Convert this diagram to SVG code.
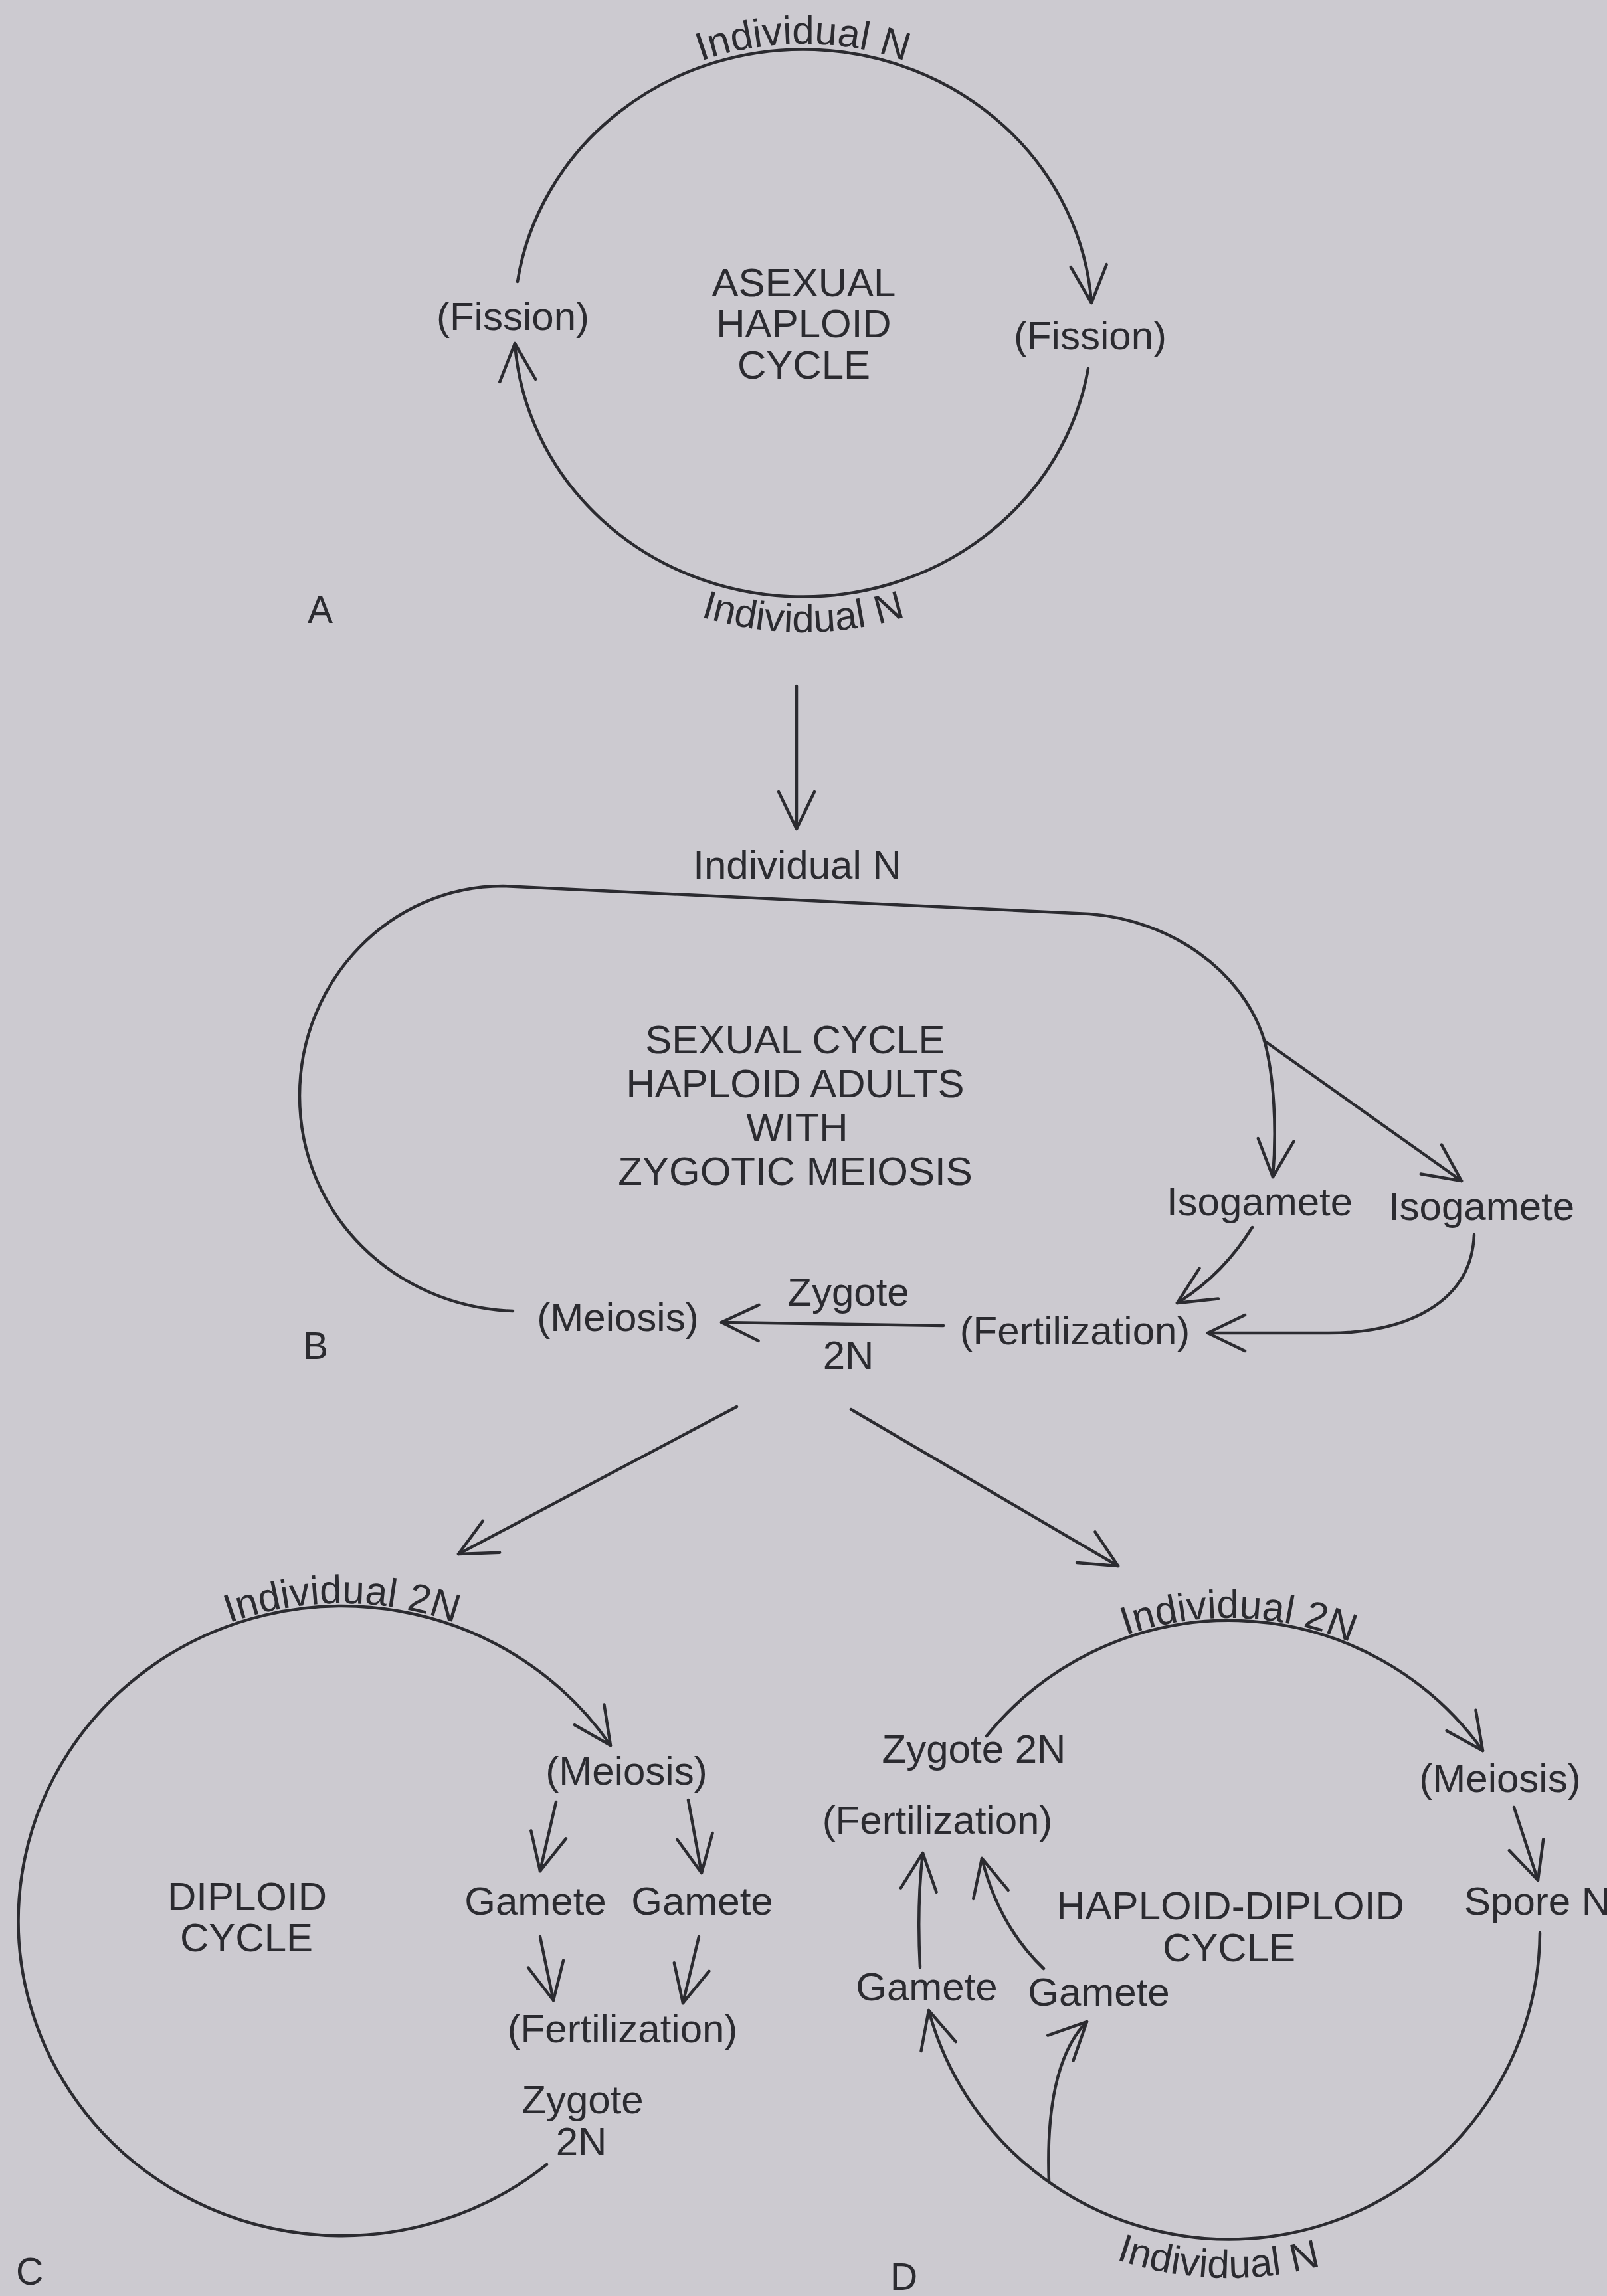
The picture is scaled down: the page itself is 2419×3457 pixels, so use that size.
<svg xmlns="http://www.w3.org/2000/svg" width="2419" height="3457" viewBox="0 0 2419 3457">
<style>
.t{font-family:"Liberation Sans",Arial,Helvetica,sans-serif;font-size:60px;fill:#2b2b30;text-anchor:middle}
.l{text-anchor:start;font-size:57px}
.c{fill:none;stroke:#2b2b30;stroke-width:4.5;stroke-linecap:round}
.a{marker-end:url(#ah)}
</style>
<defs>
<marker id="ah" markerUnits="userSpaceOnUse" markerWidth="90" markerHeight="90" viewBox="-70 -45 90 90" refX="0" refY="0" orient="auto" overflow="visible">
<path d="M -56 -27 L 0 0 L -56 27" fill="none" stroke="#2b2b30" stroke-width="4.5" stroke-linecap="round" stroke-linejoin="round"/>
</marker>
<path id="pAtop" d="M 766 485 A 443 419 0 0 1 1652 485"/>
<path id="pAbot" d="M 718 485 A 491 467 0 0 0 1700 485"/>
<path id="pCtop" d="M 24 2892 A 491 478 0 0 1 1006 2892"/>
<path id="pDtop" d="M 1378 2905 A 472 469 0 0 1 2322 2905"/>
<path id="pDbot" d="M 1322 2905 A 528 525 0 0 0 2378 2905"/>
</defs>
<rect width="2419" height="3457" fill="#cccad0"/>

<g id="connectors">
<!-- A -->
<path class="c a" d="M 779 424 A 435 411 0 0 1 1643 456"/>
<path class="c a" d="M 1638 555 A 435 411 0 0 1 775 517"/>
<path class="c a" d="M 1199 1033 L 1199 1248"/>
<!-- B -->
<path class="c a" d="M 772 1974 C 595 1968 451 1829 451 1650 C 451 1476 588 1334 757 1334 L 1640 1376 C 1760 1385 1870 1460 1903 1566 C 1918 1620 1922 1700 1916 1772"/>
<path class="c a" d="M 1903 1567 L 2200 1778"/>
<path class="c a" d="M 1885 1848 Q 1840 1920 1772 1962"/>
<path class="c a" d="M 2219 1859 C 2215 1960 2120 2007 2000 2007 L 1818 2007"/>
<path class="c a" d="M 1420 1996 L 1086 1991"/>
<path class="c a" d="M 1109 2118 L 690 2340"/>
<path class="c a" d="M 1281 2122 L 1683 2358"/>
<!-- C -->
<path class="c a" d="M 823 3259 A 487 474 0 1 1 919 2628"/>
<path class="c a" d="M 837 2713 L 813 2817"/>
<path class="c a" d="M 1036 2710 L 1056 2820"/>
<path class="c a" d="M 813 2916 L 833 3012"/>
<path class="c a" d="M 1052 2916 L 1028 3016"/>
<!-- D -->
<path class="c a" d="M 1485 2614 A 468 465 0 0 1 2232 2636"/>
<path class="c a" d="M 2318 2910 A 468 465 0 0 1 1398 3027"/>
<path class="c a" d="M 1579 3285 C 1575 3180 1590 3090 1636 3044"/>
<path class="c a" d="M 1385 2962 Q 1380 2870 1389 2790"/>
<path class="c a" d="M 1571 2964 Q 1503 2899 1478 2798"/>
<path class="c a" d="M 2279 2721 L 2315 2831"/>
</g>

<g id="panel-A">
<g id="a-top"><text class="t"><textPath href="#pAtop" startOffset="50%">Individual N</textPath></text></g>
<g id="a-bottom"><text class="t"><textPath href="#pAbot" startOffset="50%">Individual N</textPath></text></g>
<g id="a-title"><text class="t" x="1210" y="446">ASEXUAL</text><text class="t" x="1210" y="508">HAPLOID</text><text class="t" x="1210" y="570">CYCLE</text></g>
<g id="a-fission-left"><text class="t" x="772" y="497">(Fission)</text></g>
<g id="a-fission-right"><text class="t" x="1641" y="526">(Fission)</text></g>
<g id="a-label"><text class="t l" x="463" y="938">A</text></g>
</g>

<g id="panel-B">
<g id="b-individual"><text class="t" x="1200" y="1323">Individual N</text></g>
<g id="b-title"><text class="t" x="1197" y="1586">SEXUAL CYCLE</text><text class="t" x="1197" y="1652">HAPLOID ADULTS</text><text class="t" x="1200" y="1718">WITH</text><text class="t" x="1197" y="1784">ZYGOTIC MEIOSIS</text></g>
<g id="b-isogamete1"><text class="t" x="1896" y="1830">Isogamete</text></g>
<g id="b-isogamete2"><text class="t" x="2230" y="1837">Isogamete</text></g>
<g id="b-fertilization"><text class="t" x="1618" y="2024">(Fertilization)</text></g>
<g id="b-meiosis"><text class="t" x="930" y="2004">(Meiosis)</text></g>
<g id="b-zygote"><text class="t" x="1277" y="1966">Zygote</text><text class="t" x="1277" y="2061">2N</text></g>
<g id="b-label"><text class="t l" x="456" y="2046">B</text></g>
</g>

<g id="panel-C">
<g id="c-individual"><text class="t"><textPath href="#pCtop" startOffset="50%">Individual 2N</textPath></text></g>
<g id="c-title"><text class="t" x="372" y="2876">DIPLOID</text><text class="t" x="371" y="2938">CYCLE</text></g>
<g id="c-meiosis"><text class="t" x="943" y="2687">(Meiosis)</text></g>
<g id="c-gamete1"><text class="t" x="806" y="2883">Gamete</text></g>
<g id="c-gamete2"><text class="t" x="1057" y="2883">Gamete</text></g>
<g id="c-fertilization"><text class="t" x="937" y="3075">(Fertilization)</text></g>
<g id="c-zygote"><text class="t" x="877" y="3182">Zygote</text><text class="t" x="875" y="3245">2N</text></g>
<g id="c-label"><text class="t l" x="24" y="3440">C</text></g>
</g>

<g id="panel-D">
<g id="d-individual-top"><text class="t"><textPath href="#pDtop" startOffset="51%">Individual 2N</textPath></text></g>
<g id="d-individual-bottom"><text class="t"><textPath href="#pDbot" startOffset="49%">Individual N</textPath></text></g>
<g id="d-zygote"><text class="t" x="1466" y="2654">Zygote 2N</text></g>
<g id="d-fertilization"><text class="t" x="1411" y="2761">(Fertilization)</text></g>
<g id="d-gamete1"><text class="t" x="1395" y="3012">Gamete</text></g>
<g id="d-gamete2"><text class="t" x="1654" y="3020">Gamete</text></g>
<g id="d-title"><text class="t" x="1852" y="2890">HAPLOID-DIPLOID</text><text class="t" x="1850" y="2953">CYCLE</text></g>
<g id="d-meiosis"><text class="t" x="2258" y="2698">(Meiosis)</text></g>
<g id="d-spore"><text class="t" style="text-anchor:start" x="2204" y="2883">Spore N</text></g>
<g id="d-label"><text class="t l" x="1340" y="3448">D</text></g>
</g>
</svg>
